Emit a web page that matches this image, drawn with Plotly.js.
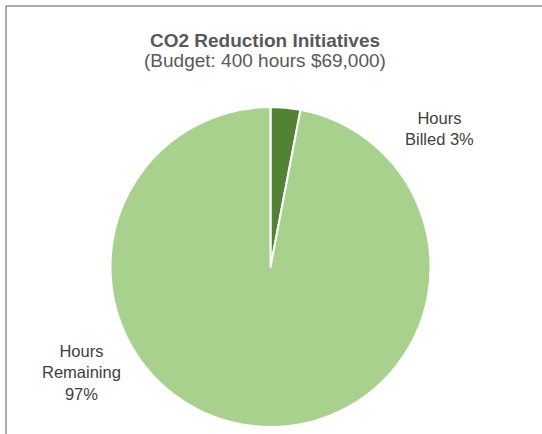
<!DOCTYPE html>
<html>
<head>
<meta charset="utf-8">
<script src="https://cdn.plot.ly/plotly-3.0.1.min.js"></script>
<style>html,body{margin:0;padding:0;background:#fff;}#chart{width:542px;height:434px;}</style>
</head>
<body>
<div id="chart"></div>
<script>
var categories = ["Hours Billed", "Hours Remaining"];
var values = [3, 97];
var labelLines = ["Hours<br>Billed", "Hours<br>Remaining"];
var pctSeparators = [" ", "<br>"];
var colors = ["#548235", "#A9D18E"];
var titleText = "CO2 Reduction Initiatives";
var subtitleText = "(Budget: 400 hours $69,000)";

var W = 542, H = 434;
var cx = 270.5, cy = 267, r = 160;
var total = values.reduce(function(a, b){ return a + b; }, 0);
var FONT = "Liberation Sans, Arial, sans-serif";
var titleX = 265 / W;

var labelPos = [{x: 439, y: 128}, {x: 81, y: 372}];
var annotations = categories.map(function(c, i){
  var pct = Math.round(values[i] / total * 100) + "%";
  return {
    text: labelLines[i] + pctSeparators[i] + pct,
    x: labelPos[i].x / W, y: 1 - labelPos[i].y / H,
    xref: "paper", yref: "paper", showarrow: false,
    xanchor: "center", yanchor: "middle", align: "center",
    font: {family: FONT, size: 16.5, color: "#404040"}
  };
});
annotations.push({
  text: subtitleText,
  x: titleX, y: 1 - 60 / H, xref: "paper", yref: "paper", showarrow: false,
  xanchor: "center", yanchor: "middle",
  font: {family: FONT, size: 19, color: "#595959"}
});

var data = [{
  type: "pie",
  labels: categories,
  values: values,
  sort: false,
  direction: "clockwise",
  rotation: 0,
  textinfo: "none",
  hoverinfo: "label+percent",
  marker: {colors: colors, line: {color: "#ffffff", width: 2}},
  domain: {x: [(cx - r) / W, (cx + r) / W], y: [(H - cy - r) / H, (H - cy + r) / H]}
}];

var layout = {
  width: W, height: H,
  margin: {l: 0, r: 0, t: 0, b: 0},
  paper_bgcolor: "#ffffff",
  showlegend: false,
  title: {
    text: "<b>" + titleText + "</b>",
    x: titleX, xanchor: "center", xref: "paper",
    y: 1 - 40 / H, yanchor: "middle", yref: "container",
    font: {family: FONT, size: 19, color: "#595959"}
  },
  annotations: annotations,
  shapes: [
    {type: "line", xref: "paper", yref: "paper", x0: 6 / W, x1: 1.01, y0: 1 - 6 / H, y1: 1 - 6 / H, line: {color: "#595959", width: 1}},
    {type: "line", xref: "paper", yref: "paper", x0: 6 / W, x1: 6 / W, y0: 1 - 6 / H, y1: -0.01, line: {color: "#595959", width: 1}}
  ]
};

Plotly.newPlot("chart", data, layout, {displayModeBar: false, staticPlot: true});
</script>
</body>
</html>
